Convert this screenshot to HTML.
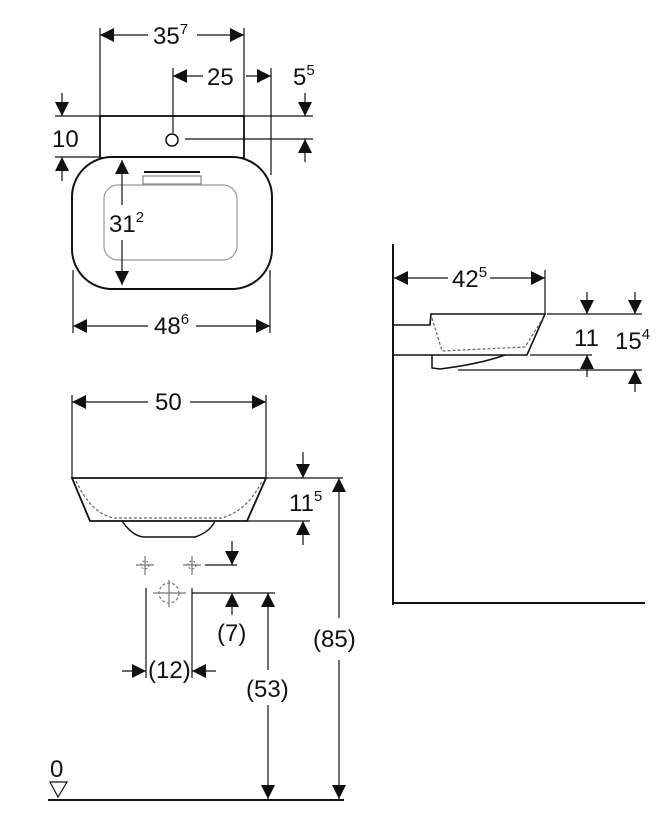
<!DOCTYPE html>
<html><head><meta charset="utf-8"><style>body{margin:0;background:#fff}svg{display:block}text{font-family:"Liberation Sans",sans-serif;fill:#111}</style></head><body>
<svg width="671" height="828" viewBox="0 0 671 828" xmlns="http://www.w3.org/2000/svg">
<defs>
<marker id="a" viewBox="0 0 10 10" refX="10" refY="5" markerWidth="20" markerHeight="14" markerUnits="userSpaceOnUse" orient="auto"><path d="M0,0L10,5L0,10z" fill="#111"/></marker>
</defs>
<g stroke="#111" stroke-width="1.2" fill="none">
<line x1="100" y1="28" x2="100" y2="115"/><line x1="244" y1="28" x2="244" y2="115"/>
<line x1="148" y1="35" x2="100" y2="35" marker-end="url(#a)"/><line x1="197" y1="35" x2="244" y2="35" marker-end="url(#a)"/>
<line x1="173" y1="68" x2="173" y2="133"/><line x1="271" y1="68" x2="271" y2="175"/>
<line x1="203" y1="76" x2="173" y2="76" marker-end="url(#a)"/><line x1="246" y1="76" x2="271" y2="76" marker-end="url(#a)"/>
<line x1="55" y1="116" x2="313" y2="116"/><line x1="55" y1="157" x2="100" y2="157"/>
<line x1="185" y1="139" x2="313" y2="139"/>
<rect x="100" y="116" width="144" height="42" stroke-width="1.8"/>
<circle cx="172" cy="140" r="6" stroke-width="1.5"/>
<line x1="62" y1="93" x2="62" y2="116" marker-end="url(#a)"/><line x1="62" y1="181" x2="62" y2="157" marker-end="url(#a)"/>
<line x1="305" y1="93" x2="305" y2="116" marker-end="url(#a)"/><line x1="305" y1="162" x2="305" y2="139" marker-end="url(#a)"/>
<rect x="72" y="157" width="200" height="132" rx="40" fill="#fff" stroke-width="2"/>
<rect x="104" y="185" width="133" height="75" rx="14" stroke="#999"/>
<rect x="143" y="176" width="58" height="8" stroke="#888"/><line x1="144" y1="172" x2="200" y2="172" stroke-width="2"/>
<line x1="122" y1="205" x2="122" y2="160" marker-end="url(#a)"/><line x1="122" y1="240" x2="122" y2="285" marker-end="url(#a)"/>
<line x1="73" y1="270" x2="73" y2="333"/><line x1="270" y1="270" x2="270" y2="333"/>
<line x1="148" y1="326" x2="73" y2="326" marker-end="url(#a)"/><line x1="196" y1="326" x2="270" y2="326" marker-end="url(#a)"/>
<line x1="72" y1="395" x2="72" y2="478"/><line x1="266" y1="395" x2="266" y2="478"/>
<line x1="148" y1="402" x2="72" y2="402" marker-end="url(#a)"/><line x1="190" y1="402" x2="266" y2="402" marker-end="url(#a)"/>
<path d="M72,478L266,478L247,521L90,521Z" stroke-width="1.8"/>
<path d="M76,481Q92,515 115,518L222,518Q248,510 262,481" stroke-dasharray="3,2" stroke="#666"/>
<path d="M122,521Q133,537 145,537L195,537Q210,532 215,521" stroke-width="1.5"/>
<line x1="266" y1="478" x2="343" y2="478"/><line x1="247" y1="521" x2="310" y2="521"/>
<line x1="303" y1="452" x2="303" y2="478" marker-end="url(#a)"/><line x1="303" y1="545" x2="303" y2="521" marker-end="url(#a)"/>
<line x1="339" y1="618" x2="339" y2="478" marker-end="url(#a)"/><line x1="339" y1="660" x2="339" y2="799" marker-end="url(#a)"/>
<g stroke="#777"><line x1="136" y1="565" x2="154" y2="565"/><line x1="145" y1="556" x2="145" y2="575"/><circle cx="145" cy="565" r="4" stroke-dasharray="2,2"/>
<line x1="183" y1="565" x2="201" y2="565"/><line x1="192" y1="556" x2="192" y2="575"/><circle cx="192" cy="565" r="4" stroke-dasharray="2,2"/>
<line x1="153" y1="593" x2="186" y2="593"/><line x1="169" y1="580" x2="169" y2="607"/><circle cx="169" cy="593" r="10" stroke-dasharray="3,2"/></g>
<line x1="205" y1="565" x2="237" y2="565"/><line x1="232" y1="541" x2="232" y2="565" marker-end="url(#a)"/>
<line x1="192" y1="593" x2="275" y2="593"/>
<line x1="232" y1="615" x2="232" y2="593" marker-end="url(#a)"/>
<line x1="268" y1="670" x2="268" y2="593" marker-end="url(#a)"/><line x1="268" y1="705" x2="268" y2="799" marker-end="url(#a)"/>
<line x1="146" y1="588" x2="146" y2="678"/><line x1="192" y1="588" x2="192" y2="678"/>
<line x1="122" y1="671" x2="146" y2="671" marker-end="url(#a)"/><line x1="216" y1="671" x2="192" y2="671" marker-end="url(#a)"/>
<line x1="48" y1="800" x2="344" y2="800" stroke-width="2"/>
<path d="M50,782L67,782L58,797Z"/>
<line x1="393" y1="244" x2="393" y2="605" stroke-width="2"/><line x1="393" y1="603" x2="645" y2="603" stroke-width="2"/>
<line x1="448" y1="278" x2="394" y2="278" marker-end="url(#a)"/><line x1="490" y1="278" x2="545" y2="278" marker-end="url(#a)"/>
<line x1="545" y1="270" x2="545" y2="314"/>
<path d="M393,325L430,325L431,314L545,314L527,355L393,355" stroke-width="1.6"/>
<path d="M432,318L442,351L525,347L543,318" stroke-dasharray="3,2" stroke="#666"/>
<path d="M432,355L432,368L440,369Q480,364 505,355" stroke-width="1.5"/>
<line x1="547" y1="314" x2="642" y2="314"/><line x1="530" y1="355" x2="592" y2="355"/><line x1="458" y1="370" x2="642" y2="370"/>
<line x1="587" y1="292" x2="587" y2="314" marker-end="url(#a)"/><line x1="587" y1="377" x2="587" y2="355" marker-end="url(#a)"/>
<line x1="635" y1="292" x2="635" y2="314" marker-end="url(#a)"/><line x1="635" y1="392" x2="635" y2="370" marker-end="url(#a)"/>
</g>
<g font-size="24">
<text x="153" y="44">35<tspan font-size="15" dy="-10">7</tspan></text>
<text x="207" y="85">25</text>
<text x="293" y="85">5<tspan font-size="15" dy="-10">5</tspan></text>
<text x="52" y="147">10</text>
<text x="109" y="232">31<tspan font-size="15" dy="-10">2</tspan></text>
<text x="154" y="334">48<tspan font-size="15" dy="-10">6</tspan></text>
<text x="155" y="410">50</text>
<text x="289" y="511">11<tspan font-size="15" dy="-10">5</tspan></text>
<text x="313" y="647">(85)</text>
<text x="217" y="641">(7)</text>
<text x="246" y="697">(53)</text>
<text x="148" y="678">(12)</text>
<text x="50" y="777">0</text>
<text x="452" y="287">42<tspan font-size="15" dy="-10">5</tspan></text>
<text x="574" y="346">11</text>
<text x="615" y="349">15<tspan font-size="15" dy="-10">4</tspan></text>
</g>
</svg>
</body></html>
